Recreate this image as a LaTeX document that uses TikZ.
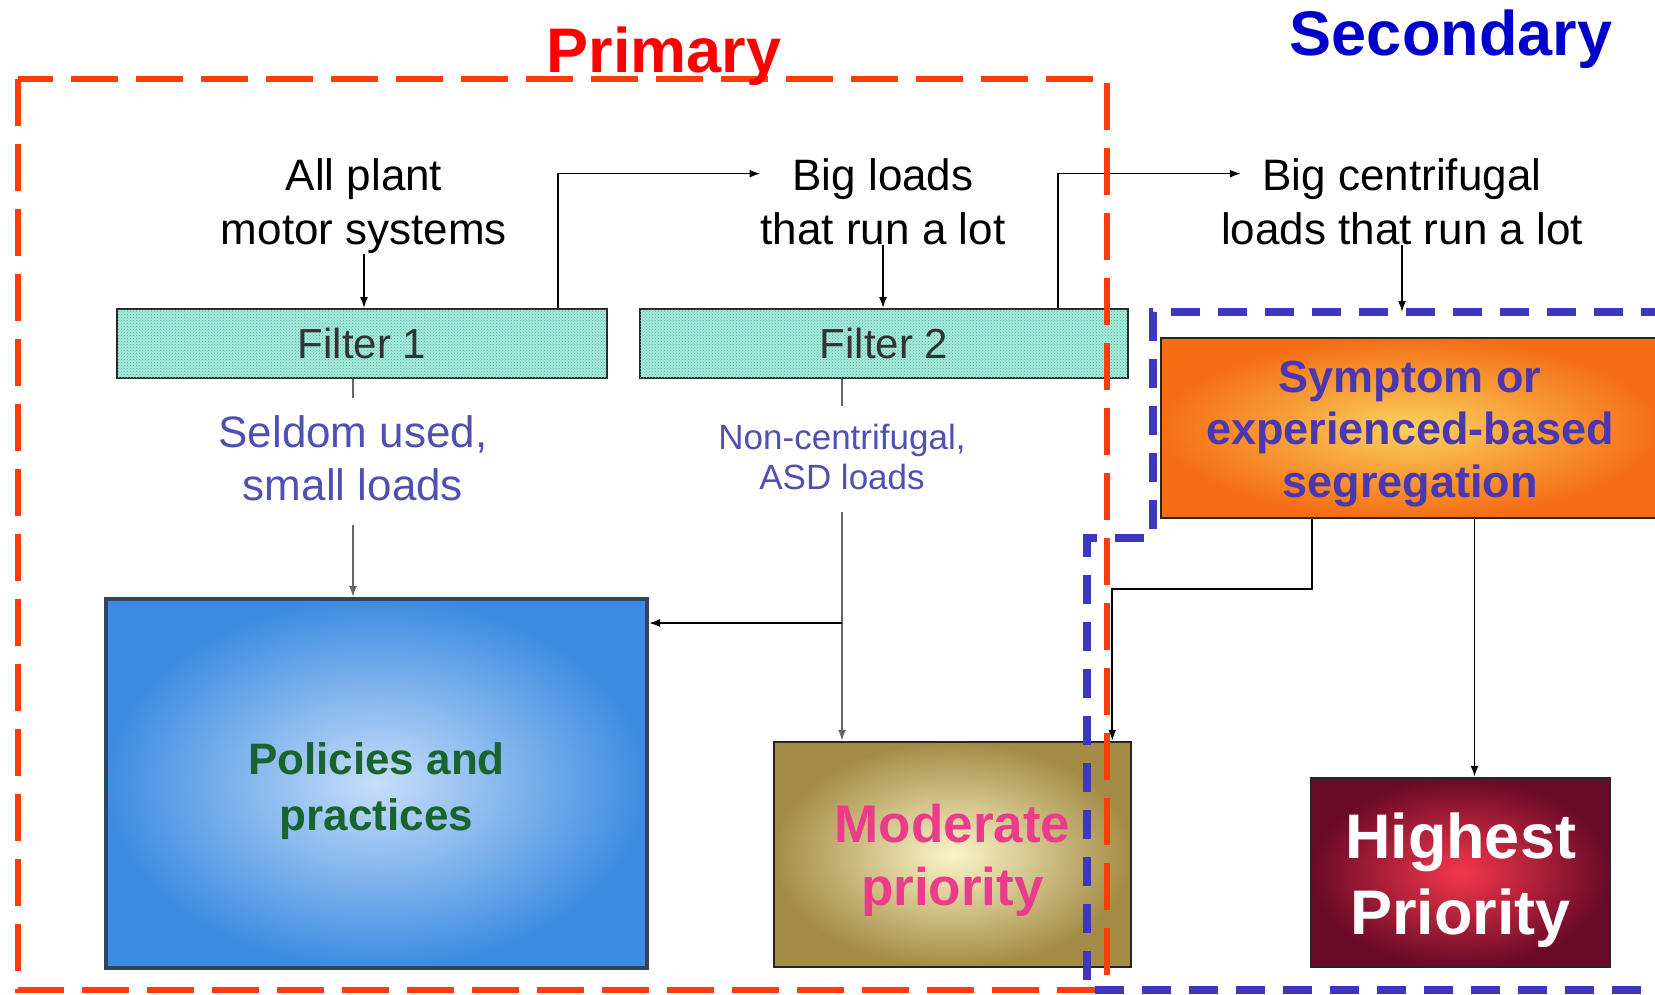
\documentclass[tikz,border=0pt]{standalone}
\usepackage{fontspec}
\setmainfont{Liberation Sans}
\usetikzlibrary{arrows.meta,patterns}

\definecolor{dashred}{RGB}{255,60,10}
\definecolor{dashblue}{RGB}{60,55,190}
\definecolor{titleblue}{RGB}{0,0,205}
\definecolor{filterfill}{RGB}{165,235,215}
\definecolor{notecolor}{RGB}{80,80,180}
\definecolor{policyin}{RGB}{200,222,250}
\definecolor{policyout}{RGB}{60,140,225}
\definecolor{policytext}{RGB}{25,100,45}
\definecolor{modin}{RGB}{250,245,200}
\definecolor{modout}{RGB}{165,140,70}
\definecolor{modtext}{RGB}{235,60,140}
\definecolor{highin}{RGB}{245,55,75}
\definecolor{highout}{RGB}{105,10,40}
\definecolor{sympin}{RGB}{250,210,95}
\definecolor{sympout}{RGB}{245,110,20}
\definecolor{symptext}{RGB}{75,55,175}

\begin{document}
\begin{tikzpicture}
  [x=1pt, y=-1pt,
   every node/.style={inner sep=0pt},
   loads/.style={align=center, font=\fontsize{44}{54}\selectfont},
   note/.style={align=center, text=notecolor, font=\fontsize{44}{53}\selectfont},
   filterbox/.style={draw=black!85, line width=2pt, minimum width=490pt, minimum height=69pt,
     fill=filterfill, postaction={pattern=crosshatch dots, pattern color=teal!65},
     text=black!80, font=\fontsize{42}{50}\selectfont},
   prio/.style={draw=black!85, line width=2.5pt},
   priotext/.style={align=center, font=\bfseries},
   feed/.style={-{Latex[length=11pt,width=8pt]}, line width=1.6pt},
   link/.style={line width=1.6pt, gray!80!black},
   primline/.style={dashred, line width=6pt, dash pattern=on 47pt off 18pt},
   secline/.style={dashblue, line width=8pt, dash pattern=on 29pt off 18pt},
   title/.style={anchor=base, font=\fontsize{63}{70}\selectfont\bfseries},
  ]
  \useasboundingbox (0,0) rectangle (1655,994);
  \clip (0,0) rectangle (1655,994);
  \fill[white] (0,0) rectangle (1655,994);

  \node[loads] (allplant) at (364,206) {All plant\\motor systems};
  \node[loads] (bigloads) at (883,202) {Big loads\\that run a lot};
  \node[loads] (bigcentri) at (1402,202) {Big centrifugal\\loads that run a lot};

  \node[filterbox] (filter1) at (362,343.5) {Filter 1};
  \node[filterbox, minimum width=488pt] (filter2) at (884,343.5) {Filter 2};

  \node[note] (seldom) at (353,458) {Seldom used,\\small loads};
  \node[note, font=\fontsize{35}{40}\selectfont] (noncentri) at (842,457) {Non-centrifugal,\\ASD loads};

  \node[prio, minimum width=541pt, minimum height=369pt, draw={rgb,255:red,50;green,70;blue,90},
    line width=4pt, inner color=policyin, outer color=policyout] (policies) at (376.5,783.5) {};
  \node[priotext, text=policytext, font=\fontsize{44}{56}\selectfont\bfseries]
    (policiestext) at ([yshift=-8pt]policies) {Policies and\\practices};
  \node[prio, minimum width=357pt, minimum height=225pt, inner color=modin, outer color=modout]
    (moderate) at (952.5,854.5) {};
  \node[priotext, text=modtext, font=\fontsize{53}{63}\selectfont\bfseries]
    (moderatetext) at ([yshift=-6pt]moderate) {Moderate\\priority};
  \node[prio, minimum width=299pt, minimum height=189pt, inner color=highin, outer color=highout]
    (highest) at (1460.5,872.5) {};
  \node[priotext, text=white, font=\fontsize{63}{76}\selectfont\bfseries]
    (highesttext) at ([yshift=-8pt]highest) {Highest\\Priority};
  \node[prio, minimum width=498pt, minimum height=180pt, inner color=sympin, outer color=sympout]
    (symptom) at (1410,428) {};
  \node[priotext, text=symptext, font=\fontsize{45}{52.5}\selectfont\bfseries]
    (symptomtext) at ([yshift=-6pt]symptom) {Symptom or\\experienced-based\\segregation};

  % filter chain
  \draw[feed] (allplant.south) -- (allplant.south |- filter1.north);
  \draw[feed] ([xshift=-50pt]filter1.north east) |- ([yshift=-15pt]bigloads.north west);
  \draw[feed] (bigloads.south) -- (bigloads.south |- filter2.north);
  \draw[feed] ([xshift=-71pt]filter2.north east) |- ([xshift=20pt,yshift=-15pt]bigcentri.north west);
  \coordinate (sectop) at (1153,312);
  \draw[feed] (bigcentri.south) -- (bigcentri.south |- sectop);

  % rejected loads
  \draw[link] (seldom.north |- filter1.south) -- ++(0,19);
  \draw[feed, link] ([yshift=-24pt]seldom.south) -- (seldom.south |- policies.north);
  \draw[link] (noncentri.north |- filter2.south) -- ++(0,27);
  \draw[feed, link] ([yshift=-22pt]noncentri.south) -- (noncentri.south |- moderate.north);
  \coordinate (pin) at ([yshift=-26pt]policies.north east);
  \draw[feed] (noncentri.south |- pin) -- (pin);

  % segregation
  \draw[feed] ([xshift=-98pt]symptom.south) -- ++(0,70) -| ([xshift=-20pt]moderate.north east);
  \draw[feed] ([xshift=14pt]highest.north |- symptom.south) -- ([xshift=14pt]highest.north);

  % regions
  \draw[primline] (18,79) rectangle (1107,990);
  \draw[secline] (1670,312) -- (sectop) -- (1153,538) -- (1087,538) -- (1087,990) -- (1670,990);
  \node[title, text=red] (primary) at (664,72) {Primary};
  \node[title, text=titleblue] (secondary) at (1451,55) {Secondary};
\end{tikzpicture}
\end{document}
